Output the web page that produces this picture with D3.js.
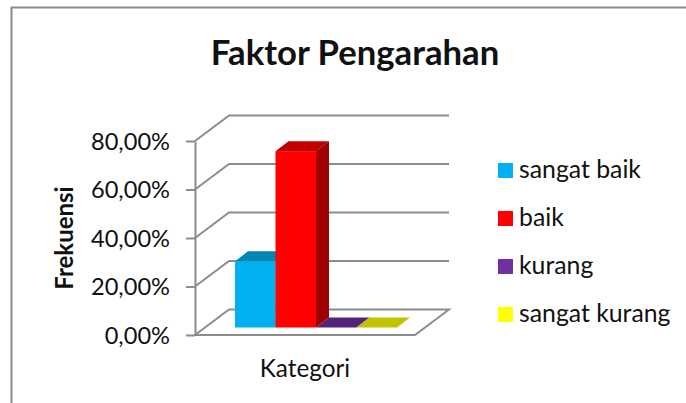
<!DOCTYPE html>
<html><head><meta charset="utf-8">
<script src="https://cdn.jsdelivr.net/npm/d3@7"></script>
<style>html,body{margin:0;padding:0;background:#fff}svg{display:block}text{font-family:Lato,"Open Sans",sans-serif;fill:#111}</style>
</head><body><svg id="c" width="686" height="403"></svg>
<script>
const chartTitle = "Faktor Pengarahan";
const yTitle = "Frekuensi";
const xTitle = "Kategori";
const seriesNames = ["sangat baik","baik","kurang","sangat kurang"];
const seriesValues = [27.27,72.73,0,0];
const seriesColors = ["#00b0f0","#ff0000","#7030a0","#ffff00"];
const topColors = ["#0086b6","#c00000","#55247a","#c2c200"];
const sideColors = ["#006f98","#a00000","#451d63","#a0a000"];
const tickValues = [0,20,40,60,80];
const svg = d3.select("#c");
const fmt = v => v.toFixed(2).replace(".",",")+"%";
const gray = "#8c8c8c";
const y = d3.scaleLinear().domain([0,80]).range([335,141]);
const x = d3.scaleBand().domain(seriesNames).range([235,397]);
const wallDx = 34, wallDy = -25.5, floorW = 220, front = 195;
const barDx = 13, barDy = -10, baseShift = -7.5;

svg.append("path").attr("d","M11.5,403V7.5H686").attr("fill","none").attr("stroke","#8a8a8a").attr("stroke-width",2);

// floor
svg.append("path").attr("fill","#fff").attr("stroke",gray).attr("stroke-width",2)
  .attr("d",`M${front},${y(0)}L${front+wallDx},${y(0)+wallDy}H${front+wallDx+floorW}L${front+floorW},${y(0)}Z`);
// gridlines
tickValues.filter(t=>t>0).forEach(t=>{
  svg.append("path").attr("fill","none").attr("stroke",gray).attr("stroke-width",2)
    .attr("d",`M${front},${y(t)}L${front+wallDx},${y(t)+wallDy}H${front+wallDx+floorW}`);
});
// y axis
const axis = d3.axisLeft(y).tickValues(tickValues).tickFormat(fmt).tickSize(9).tickSizeOuter(0);
const ag = svg.append("g").attr("transform",`translate(${front},0)`).call(axis);
ag.select(".domain").attr("stroke",gray).attr("stroke-width",2);
ag.selectAll(".tick line").attr("stroke",gray).attr("stroke-width",2);
ag.selectAll(".tick text").attr("font-size",23.6).attr("x",-25).style("font-family","Lato").attr("dy","0.34em");

// bars
seriesNames.forEach((n,i)=>{
  const x0 = x(n), w = x.bandwidth(), b = y(0)+baseShift, t = y(seriesValues[i])+baseShift, h = b-t;
  svg.append("path").attr("fill",sideColors[i]).attr("d",`M${x0+w},${b}L${x0+w+barDx},${b+barDy}V${t+barDy}L${x0+w},${t}Z`);
  svg.append("path").attr("fill",topColors[i]).attr("d",`M${x0},${t}L${x0+barDx},${t+barDy}H${x0+w+barDx}L${x0+w},${t}Z`);
  if(h>0) svg.append("rect").attr("x",x0).attr("y",t).attr("width",w).attr("height",h).attr("fill",seriesColors[i]);
});

svg.append("text").attr("x",355).attr("y",65).attr("text-anchor","middle").attr("font-size",34.7).attr("font-weight",700).text(chartTitle);
svg.append("text").attr("transform","translate(73,238) rotate(-90)").attr("text-anchor","middle").attr("font-size",24).attr("font-weight",700).text(yTitle);
svg.append("text").attr("x",305).attr("y",377).attr("text-anchor","middle").attr("font-size",24.3).text(xTitle);

const legY = d3.scalePoint().domain(seriesNames).range([171,315]);
seriesNames.forEach((n,i)=>{
  svg.append("rect").attr("x",498).attr("y",legY(n)-8).attr("width",15).attr("height",15).attr("fill",seriesColors[i]);
  svg.append("text").attr("x",519).attr("y",legY(n)+7).attr("font-size",24.8).text(n);
});
</script></body></html>
